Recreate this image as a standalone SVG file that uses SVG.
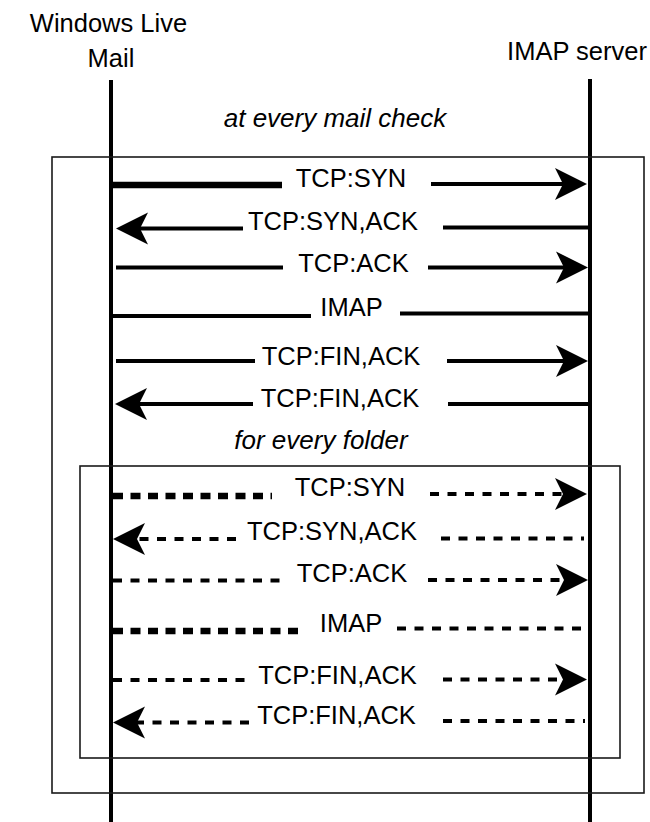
<svg xmlns="http://www.w3.org/2000/svg" width="650" height="822" viewBox="0 0 650 822">
<style>
  text { font-family: "Liberation Sans", Arial, sans-serif; font-size: 25.5px; fill: #000; text-anchor: middle; }
  .it { font-style: italic; font-size: 26px; }
  .life { stroke: #000; stroke-width: 4; fill: none; }
  .frame { stroke: #1a1a1a; stroke-width: 1.6; fill: none; }
  .msg { stroke: #000; stroke-width: 4; fill: none; }
  .thick { stroke-width: 6.5; }
  .dash { stroke-dasharray: 9 8.5; }
  .dashT { stroke-dasharray: 10 7.5; }
  .arr { marker-end: url(#ah); }
</style>
<defs>
  <marker id="ah" markerUnits="userSpaceOnUse" markerWidth="40" markerHeight="40" refX="0" refY="0" orient="auto" viewBox="-10 -20 40 40" overflow="visible">
    <path d="M24,0 L-8,-16 L0,0 L-8,16 Z" fill="#000"/>
  </marker>
</defs>
<rect width="650" height="822" fill="#fff"/>

<g id="wlm">
  <text x="108.5" y="31.5">Windows Live</text>
  <text x="111" y="67">Mail</text>
  <line class="life" x1="111" y1="80" x2="111" y2="822"/>
</g>
<g id="imap">
  <text x="577" y="60">IMAP server</text>
  <line class="life" x1="590" y1="79" x2="590" y2="822"/>
</g>

<g id="frame-mailcheck">
  <rect class="frame" x="52" y="157" width="592" height="636"/>
  <text class="it" x="335" y="127">at every mail check</text>
</g>
<g id="frame-folder">
  <rect class="frame" x="80" y="466" width="540" height="292"/>
  <text class="it" x="321" y="449">for every folder</text>
</g>

<g id="connectors">
  <!-- solid block -->
  <g id="m1">
    <line class="msg thick" x1="111" y1="185" x2="282" y2="185"/>
    <line class="msg arr" x1="431" y1="184" x2="563" y2="184"/>
    <text x="351" y="186.5">TCP:SYN</text>
  </g>
  <g id="m2">
    <line class="msg arr" x1="243" y1="228.5" x2="140" y2="228.5"/>
    <line class="msg" x1="443" y1="227.5" x2="590" y2="227.5"/>
    <text x="333" y="230">TCP:SYN,ACK</text>
  </g>
  <g id="m3">
    <line class="msg" x1="116" y1="267.5" x2="283" y2="267.5"/>
    <line class="msg arr" x1="428" y1="267.5" x2="564" y2="267.5"/>
    <text x="353.5" y="271.5">TCP:ACK</text>
  </g>
  <g id="m4">
    <line class="msg" x1="111" y1="316" x2="311" y2="316"/>
    <line class="msg" x1="400" y1="313.5" x2="590" y2="313.5"/>
    <text x="351.5" y="315.5">IMAP</text>
  </g>
  <g id="m5">
    <line class="msg" x1="116" y1="361" x2="255" y2="361"/>
    <line class="msg arr" x1="447" y1="361" x2="564" y2="361"/>
    <text x="341" y="365">TCP:FIN,ACK</text>
  </g>
  <g id="m6">
    <line class="msg arr" x1="253" y1="404" x2="139" y2="404"/>
    <line class="msg" x1="448" y1="404" x2="590" y2="404"/>
    <text x="340" y="407">TCP:FIN,ACK</text>
  </g>

  <!-- dashed block -->
  <g id="d1">
    <line class="msg thick dashT" x1="113" y1="496" x2="272" y2="496"/>
    <line class="msg dash" x1="430" y1="494" x2="563" y2="494"/>
    <path d="M587,494 L555,478 L563,494 L555,510 Z" fill="#000"/>
    <text x="350" y="496">TCP:SYN</text>
  </g>
  <g id="d2">
    <line class="msg dash" x1="236" y1="539" x2="137" y2="539"/>
    <path d="M113,539 L145,523 L137,539 L145,555 Z" fill="#000"/>
    <line class="msg dash" x1="441" y1="538.5" x2="584" y2="538.5"/>
    <text x="332" y="540">TCP:SYN,ACK</text>
  </g>
  <g id="d3">
    <line class="msg dash" x1="113" y1="580.5" x2="282" y2="580.5"/>
    <line class="msg dash" x1="428" y1="580" x2="564" y2="580"/>
    <path d="M588,580 L556,564 L564,580 L556,596 Z" fill="#000"/>
    <text x="352" y="582">TCP:ACK</text>
  </g>
  <g id="d4">
    <line class="msg thick dashT" x1="113" y1="631" x2="305" y2="631"/>
    <line class="msg dash" x1="397" y1="628.5" x2="590" y2="628.5"/>
    <text x="351" y="631.5">IMAP</text>
  </g>
  <g id="d5">
    <line class="msg dash" x1="113" y1="680" x2="249" y2="680"/>
    <line class="msg dash" x1="443" y1="679.5" x2="563" y2="679.5"/>
    <path d="M587,679.5 L555,663.5 L563,679.5 L555,695.5 Z" fill="#000"/>
    <text x="337.5" y="684">TCP:FIN,ACK</text>
  </g>
  <g id="d6">
    <line class="msg dash" x1="249" y1="722.5" x2="137" y2="722.5"/>
    <path d="M113,722.5 L145,706.5 L137,722.5 L145,738.5 Z" fill="#000"/>
    <line class="msg dash" x1="443" y1="721" x2="585" y2="721"/>
    <text x="336.5" y="724">TCP:FIN,ACK</text>
  </g>
</g>
</svg>
